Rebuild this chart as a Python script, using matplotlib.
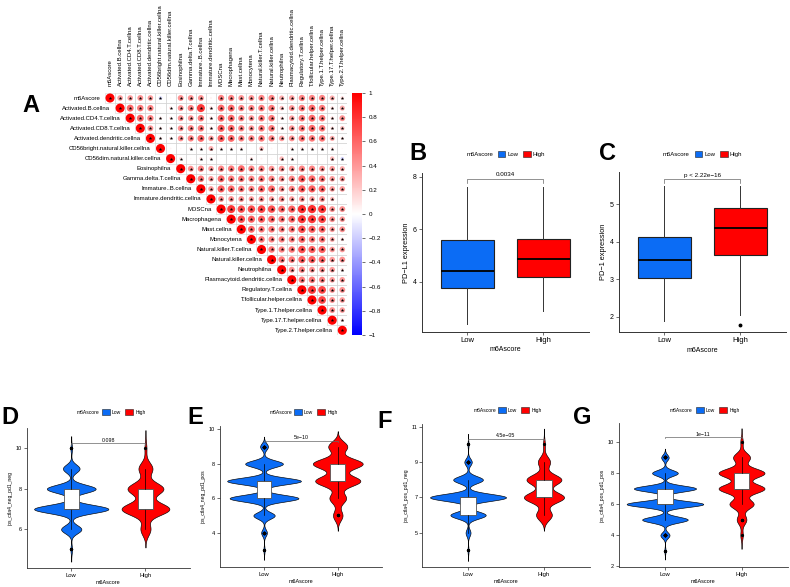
import numpy as np
import matplotlib
matplotlib.use("Agg")
import matplotlib.pyplot as plt
from matplotlib.colors import LinearSegmentedColormap, Normalize
from matplotlib.collections import PatchCollection
from matplotlib.patches import Circle, Rectangle, Patch
from matplotlib import cbook
import matplotlib.cm as cm

plt.rcParams['font.family'] = ['Liberation Sans', 'DejaVu Sans']

W, H = 790, 587
BLUE, RED = '#0b6cf5', '#ff0000'

#-- Panel A: immune cell correlation (upper triangle, row i holds cols i+1..)
cell_names = ["m6Ascore", "Activated.B.cellna", "Activated.CD4.T.cellna", "Activated.CD8.T.cellna",
              "Activated.dendritic.cellna", "CD56bright.natural.killer.cellna", "CD56dim.natural.killer.cellna",
              "Eosinophilna", "Gamma.delta.T.cellna", "Immature..B.cellna", "Immature.dendritic.cellna",
              "MDSCna", "Macrophagena", "Mast.cellna", "Monocytena", "Natural.killer.T.cellna",
              "Natural.killer.cellna", "Neutrophilna", "Plasmacytoid.dendritic.cellna", "Regulatory.T.cellna",
              "T.follicular.helper.cellna", "Type.1.T.helper.cellna", "Type.17.T.helper.cellna",
              "Type.2.T.helper.cellna"]
corr_upper = [
    [0.38, 0.38, 0.42, 0.38, -0.15, 0.03, 0.42, 0.42, 0.42, 0.05, 0.48, 0.48, 0.42, 0.42, 0.48, 0.48, 0.32, 0.38, 0.48, 0.48, 0.48, 0.32, 0.15],
    [0.58, 0.52, 0.48, 0.03, 0.12, 0.42, 0.48, 0.78, 0.15, 0.58, 0.58, 0.48, 0.48, 0.52, 0.52, 0.25, 0.42, 0.52, 0.58, 0.52, 0.15, 0.32],
    [0.58, 0.48, 0.12, 0.12, 0.42, 0.42, 0.52, 0.15, 0.58, 0.58, 0.48, 0.42, 0.52, 0.52, 0.15, 0.38, 0.52, 0.58, 0.52, 0.15, 0.42],
    [0.42, 0.12, 0.12, 0.42, 0.48, 0.52, 0.15, 0.62, 0.58, 0.48, 0.42, 0.52, 0.52, 0.15, 0.42, 0.52, 0.58, 0.52, 0.15, 0.25],
    [0.12, 0.12, 0.42, 0.48, 0.58, 0.38, 0.62, 0.58, 0.48, 0.48, 0.52, 0.48, 0.38, 0.42, 0.52, 0.52, 0.52, 0.32, 0.12],
    [0.04, 0.03, 0.12, 0.12, 0.30, 0.12, 0.12, 0.12, 0.02, 0.25, 0.04, 0.03, 0.12, 0.12, 0.12, 0.12, 0.12, 0.02],
    [0.12, 0.03, 0.12, 0.12, 0.02, 0.02, -0.03, 0.12, 0.05, 0.03, 0.25, 0.12, 0.02, 0.02, 0.02, 0.25, -0.15],
    [0.42, 0.48, 0.38, 0.48, 0.52, 0.58, 0.48, 0.48, 0.42, 0.42, 0.42, 0.48, 0.48, 0.42, 0.38, 0.32],
    [0.52, 0.38, 0.58, 0.52, 0.52, 0.48, 0.52, 0.48, 0.42, 0.48, 0.62, 0.58, 0.52, 0.38, 0.38],
    [0.38, 0.62, 0.58, 0.52, 0.48, 0.58, 0.58, 0.42, 0.48, 0.62, 0.62, 0.58, 0.38, 0.38],
    [0.42, 0.42, 0.42, 0.38, 0.42, 0.38, 0.42, 0.38, 0.42, 0.38, 0.42, 0.25, 0.03],
    [0.78, 0.68, 0.68, 0.72, 0.68, 0.58, 0.62, 0.82, 0.82, 0.78, 0.42, 0.42],
    [0.68, 0.62, 0.62, 0.58, 0.52, 0.58, 0.78, 0.78, 0.72, 0.42, 0.38],
    [0.58, 0.52, 0.52, 0.48, 0.52, 0.68, 0.62, 0.58, 0.38, 0.42],
    [0.52, 0.48, 0.48, 0.48, 0.58, 0.52, 0.52, 0.32, 0.15],
    [0.52, 0.48, 0.52, 0.68, 0.62, 0.62, 0.38, 0.38],
    [0.52, 0.52, 0.62, 0.62, 0.58, 0.38, 0.42],
    [0.42, 0.48, 0.42, 0.42, 0.38, 0.15],
    [0.52, 0.52, 0.48, 0.38, 0.38],
    [0.78, 0.72, 0.42, 0.42],
    [0.72, 0.42, 0.38],
    [0.42, 0.38],
    [0.15],
]
sig_cut = 0.1
cbar_ticks = [-1, -0.8, -0.6, -0.4, -0.2, 0, 0.2, 0.4, 0.6, 0.8, 1]

groups = ["Low", "High"]

#-- Panel B: PD-L1 expression box stats
pdl1_q1 = [3.75, 4.19]
pdl1_med = [4.42, 4.86]
pdl1_q3 = [5.59, 5.61]
pdl1_lo = [2.38, 2.90]
pdl1_hi = [7.62, 7.62]
pdl1_out = [[], []]
pdl1_p = "0.0034"

#-- Panel C: PD-1 expression box stats
pd1_q1 = [3.04, 3.65]
pd1_med = [3.52, 4.37]
pd1_q3 = [4.12, 4.89]
pd1_lo = [1.87, 2.04]
pd1_hi = [5.49, 5.49]
pd1_out = [[], [1.78]]
pd1_p = "p < 2.22e\u221216"

#-- Panels D-G: IPS scores, number of samples per integer score
ipsD_levels = [5, 6, 7, 8, 9, 10]
ipsD_low = [4, 51, 187, 123, 42, 4]
ipsD_high = [0, 5, 24, 18, 7, 1]
ipsE_levels = [3, 4, 5, 6, 7, 8, 9]
ipsE_low = [3, 14, 52, 168, 180, 92, 19]
ipsE_high = [0, 0, 4, 7, 19, 21, 8]
ipsF_levels = [4, 5, 6, 7, 8, 9, 10]
ipsF_low = [3, 14, 100, 215, 84, 21, 3]
ipsF_high = [0, 0, 9, 23, 20, 7, 1]
ipsG_levels = [3, 4, 5, 6, 7, 8, 9, 10]
ipsG_low = [3, 22, 110, 185, 150, 62, 18, 0]
ipsG_high = [0, 1, 4, 10, 19, 19, 7, 1]
ips_p = ["0.098", "5e\u221210", "4.5e\u221205", "1e\u221211"]
ips_names = ["ips_ctla4_neg_pd1_neg", "ips_ctla4_neg_pd1_pos", "ips_ctla4_pos_pd1_neg", "ips_ctla4_pos_pd1_pos"]


fig = plt.figure(figsize=(W / 100, H / 100), dpi=100)
fig.patch.set_facecolor('white')


def px_axes(l, t, r, b):
    return fig.add_axes([l / W, 1 - b / H, (r - l) / W, (b - t) / H])


def style(ax, lw=0.7):
    for s in ['top', 'right']:
        ax.spines[s].set_visible(False)
    for s in ['left', 'bottom']:
        ax.spines[s].set_linewidth(lw)
        ax.spines[s].set_color('#333333')
    ax.tick_params(length=2, width=0.5, pad=1.5, colors='#333333', labelcolor='black')


def legend_row(ax, title_r, key_l, y, fs, hl, hh):
    fig.text(title_r / W, 1 - y / H, 'm6Ascore', ha='right', va='center', fontsize=fs)
    handles = [Patch(fc=BLUE, ec='#222222', lw=0.4), Patch(fc=RED, ec='#222222', lw=0.4)]
    ax.legend(handles, groups, loc='center left', bbox_to_anchor=(key_l / W, 1 - y / H),
              bbox_transform=fig.transFigure, ncol=2, frameon=False, fontsize=fs,
              handlelength=hl, handleheight=hh, handletextpad=0.4, columnspacing=0.8,
              borderpad=0, borderaxespad=0)


def bracket(ax, y, tick, text, fs, dy):
    ax.plot([1, 1, 2, 2], [y - tick, y, y, y - tick], color='#666666', lw=0.5, clip_on=False)
    ax.text(1.5, y + dy, text, ha='center', va='bottom', fontsize=fs)


#-- A: correlation matrix
n = len(cell_names)
step = 10.1
ax = px_axes(110 - step / 2, 98 - step / 2, 110 - step / 2 + n * step, 98 - step / 2 + n * step)
ax.set_xlim(-0.5, n - 0.5)
ax.set_ylim(n - 0.5, -0.5)
ax.axis('off')
cmap = LinearSegmentedColormap.from_list('bwr_corr', ['#0000ff', '#ffffff', '#ff0000'])
norm = Normalize(-1, 1)

circles, vals, grid, sx, sy = [], [], [], [], []
for i in range(n):
    row = [1.0] + corr_upper[i] if i < n - 1 else [1.0]
    for k, r in enumerate(row):
        j = i + k
        grid.append(Rectangle((j - 0.5, i - 0.5), 1, 1))
        circles.append(Circle((j, i), 0.45 * np.sqrt(abs(r))))
        vals.append(r)
        if abs(r) >= sig_cut:
            sx.append(j)
            sy.append(i)
ax.add_collection(PatchCollection(grid, facecolor='none', edgecolor='#d4d4d4', lw=0.4))
ax.add_collection(PatchCollection(circles, facecolors=cmap(norm(np.array(vals))), edgecolors='none'))
ax.scatter(sx, sy, marker='*', s=7, color='black', lw=0, zorder=3)
for i, name in enumerate(cell_names):
    ax.text(i - 0.95, i, name, ha='right', va='center', fontsize=4.3)
    ax.text(i, -1.2, name, ha='center', va='bottom', rotation=90, fontsize=4.3)

cax = px_axes(352, 93, 362, 335)
cb = fig.colorbar(cm.ScalarMappable(norm=norm, cmap=cmap), cax=cax, ticks=cbar_ticks)
cb.outline.set_visible(False)
cb.set_ticklabels([f"{v:g}".replace('-', '\u2212') for v in cbar_ticks])
cax.tick_params(labelsize=4.5, length=2, width=0.4, pad=3)

#-- B / C: box plots
def boxpanel(rect, q1, med, q3, lo, hi, out, ylim, yticks, ylabel, ptext, py, ptick):
    ax = px_axes(*rect)
    stats = [dict(med=med[k], q1=q1[k], q3=q3[k], whislo=lo[k], whishi=hi[k], fliers=out[k])
             for k in range(2)]
    bp = ax.bxp(stats, positions=[1, 2], widths=0.7, patch_artist=True, showcaps=False,
                boxprops=dict(edgecolor='#222222', lw=0.8),
                medianprops=dict(color='black', lw=1.3),
                whiskerprops=dict(color='#333333', lw=0.7),
                flierprops=dict(marker='o', markersize=1.8, markerfacecolor='black', markeredgecolor='black'))
    for patch, c in zip(bp['boxes'], [BLUE, RED]):
        patch.set_facecolor(c)
    ax.set_xlim(0.4, 2.6)
    ax.set_ylim(*ylim)
    ax.set_yticks(yticks)
    ax.set_xticks([1, 2], groups)
    style(ax)
    ax.tick_params(axis='x', labelsize=5.5)
    ax.tick_params(axis='y', labelsize=5)
    ax.set_ylabel(ylabel, fontsize=5.3, labelpad=2)
    ax.set_xlabel('m6Ascore', fontsize=5, labelpad=2)
    bracket(ax, py, ptick, ptext, 4.5, 0.06 * (ylim[1] - ylim[0]) / 6)
    return ax

axB = boxpanel((421.7, 173.3, 588.6, 331.7), pdl1_q1, pdl1_med, pdl1_q3, pdl1_lo, pdl1_hi, pdl1_out,
               (2.1, 8.13), [4, 6, 8], 'PD\u2212L1 expression', pdl1_p, 7.91, 0.14)
legend_row(axB, 494, 498, 154, 4.3, 1.2, 1.1)
axC = boxpanel((618.5, 171.7, 786, 332.3), pd1_q1, pd1_med, pd1_q3, pd1_lo, pd1_hi, pd1_out,
               (1.58, 5.87), [2, 3, 4, 5], 'PD\u22121 expression', pd1_p, 5.67, 0.11)
legend_row(axC, 690, 695, 154, 4.3, 1.2, 1.1)

#-- D-G: violin plots with white boxes
def nrd0(x):
    sd = np.std(x, ddof=1)
    q75, q25 = np.percentile(x, [75, 25])
    return 0.9 * min(sd, (q75 - q25) / 1.34) * len(x) ** -0.2


def violinpanel(rect, levels, low, high, ylim, yticks, ylabel, ptext, py):
    ax = px_axes(*rect)
    data = [np.repeat(levels, low).astype(float), np.repeat(levels, high).astype(float)]
    curves = []
    for x in data:
        bw = nrd0(x)
        yy = np.linspace(x.min() - 3 * bw, x.max() + 3 * bw, 600)
        d = np.exp(-0.5 * ((yy[:, None] - x[None, :]) / bw) ** 2).sum(1) / (len(x) * bw * np.sqrt(2 * np.pi))
        curves.append((yy, d))
    dmax = max(c[1].max() for c in curves)
    for pos, (yy, d), c in zip([1, 2], curves, [BLUE, RED]):
        half = 0.5 * d / dmax
        ax.fill_betweenx(yy, pos - half, pos + half, facecolor=c, edgecolor='black', lw=0.45)
    stats = cbook.boxplot_stats(data)
    ax.bxp(stats, positions=[1, 2], widths=0.2, patch_artist=True, showcaps=False,
           boxprops=dict(facecolor='white', edgecolor='#555555', lw=0.6),
           medianprops=dict(color='#555555', lw=0.6),
           whiskerprops=dict(color='black', lw=0.5),
           flierprops=dict(marker='o', markersize=1.3, markerfacecolor='black', markeredgecolor='black'))
    ax.set_xlim(0.4, 2.6)
    ax.set_ylim(*ylim)
    ax.set_yticks(yticks)
    ax.set_xticks([1, 2], groups)
    style(ax, 0.6)
    ax.tick_params(axis='x', labelsize=4.2)
    ax.tick_params(axis='y', labelsize=4)
    ax.set_ylabel(ylabel, fontsize=3.6, labelpad=2)
    ax.set_xlabel('m6Ascore', fontsize=4, labelpad=1.5)
    bracket(ax, py, 0.08, ptext, 3.8, 0.03)
    return ax

axD = violinpanel((26.7, 428.3, 190, 567.7), ipsD_levels, ipsD_low, ipsD_high, (4.1, 10.99),
                  [6, 8, 10], ips_names[0], ips_p[0], 10.25)
legend_row(axD, 99, 102, 412, 3.6, 1.6, 1.2)
axE = violinpanel((219.8, 426, 382, 566.7), ipsE_levels, ipsE_low, ipsE_high, (2.03, 10.19),
                  [4, 6, 8, 10], ips_names[1], ips_p[1], 9.34)
legend_row(axE, 292, 294, 412, 3.6, 1.6, 1.2)
axF = violinpanel((422.5, 424, 589.5, 566.7), ipsF_levels, ipsF_low, ipsF_high, (3.08, 11.15),
                  [5, 7, 9, 11], ips_names[2], ips_p[2], 10.3)
legend_row(axF, 496, 498, 410, 3.6, 1.6, 1.2)
axG = violinpanel((619, 423.3, 787.5, 566.7), ipsG_levels, ipsG_low, ipsG_high, (1.97, 11.2),
                  [2, 4, 6, 8, 10], ips_names[3], ips_p[3], 10.32)
legend_row(axG, 692, 696, 410, 3.6, 1.6, 1.2)

#-- panel letters
for lab, x, y in [("A", 31, 106), ("B", 418, 153), ("C", 607, 153), ("D", 10, 418),
                  ("E", 195, 418), ("F", 385, 421), ("G", 582, 417)]:
    fig.text(x / W, 1 - y / H, lab, ha='center', va='center', fontsize=17, fontweight='bold')

fig.savefig('out.png', dpi=100, facecolor='white')
